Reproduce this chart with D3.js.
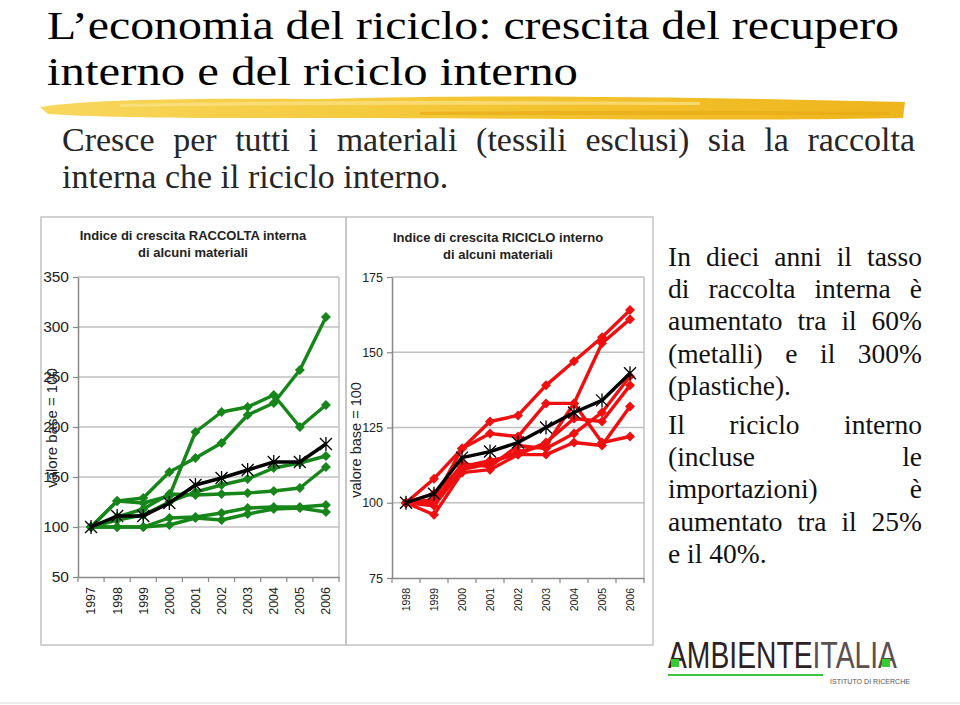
<!DOCTYPE html>
<html>
<head>
<meta charset="utf-8">
<script src="https://cdn.jsdelivr.net/npm/d3@7/dist/d3.min.js"></script>
<style>
  html, body { margin: 0; padding: 0; background: #fff; }
  svg { display: block; }
</style>
</head>
<body>
<svg id="slide" width="960" height="705"></svg>
<script>
//////////
// Data //
//////////

var raccoltaYears = ['1997', '1998', '1999', '2000', '2001', '2002', '2003', '2004', '2005', '2006'];
var ricicloYears = ['1998', '1999', '2000', '2001', '2002', '2003', '2004', '2005', '2006'];

// one row per material
var raccoltaMaterials = [
  [100, 126, 129, 155, 169, 184, 212, 224, 257, 310],
  [100, 126, 124, 131, 195, 215, 220, 232, 200, 222],
  [100, 107, 112, 125, 135, 142, 148, 159, 164, 171],
  [100, 110, 118, 133, 132, 133, 134, 136, 139, 160],
  [100, 100, 100, 109, 110, 114, 119, 120, 120, 122],
  [100, 100, 100, 102, 109, 107, 113, 118, 119, 115]
];
var raccoltaTotal = [100, 111, 111, 124, 142, 149, 157, 165, 165, 183];

var ricicloMaterials = [
  [100, 108, 118, 127, 129, 139, 147, 155, 164],
  [100, 101, 118, 123, 122, 133, 133, 153, 161],
  [100, 99, 111, 113, 117, 119, 133, 120, 122],
  [100, 96, 110, 111, 116, 120, 128, 127, 139],
  [100, 103, 112, 114, 116, 116, 120, 119, 132],
  [100, 100, 113, 112, 119, 118, 123, 130, 142]
];
var ricicloTotal = [100, 103, 115, 117, 120, 125, 130, 134, 143];

var raccoltaTicks = [50, 100, 150, 200, 250, 300, 350];
var ricicloTicks = [75, 100, 125, 150, 175];

var titleLines = ['L\u2019economia del riciclo: crescita del recupero', 'interno e del riciclo interno'];
var subtitleLines = [
  {t: 'Cresce per tutti i materiali (tessili esclusi) sia la raccolta', j: true},
  {t: 'interna che il riciclo interno.', j: false}
];
var sideLines = [
  {t: 'In dieci anni il tasso', j: true},
  {t: 'di raccolta interna è', j: true},
  {t: 'aumentato tra il 60%', j: true},
  {t: '(metalli) e il 300%', j: true},
  {t: '(plastiche).', j: false},
  {t: 'Il riciclo interno', j: true},
  {t: '(incluse le', j: true},
  {t: 'importazioni) è', j: true},
  {t: 'aumentato tra il 25%', j: true},
  {t: 'e il 40%.', j: false}
];

var svg = d3.select('#slide');
var SANS = 'Liberation Sans, Arial, sans-serif';
var SERIF = 'Liberation Serif, Times New Roman, serif';

/////////////
// Helpers //
/////////////

/**
 * Write one line of words, stretching the gaps so it fills `width`
 * when `justify` is set.
 */
var justifiedLine = function(parent, str, x, y, width, justify, size, color) {
  var t = parent.append('text')
    .attr('y', y)
    .style('font-family', SERIF).style('font-size', size + 'px')
    .attr('fill', color);
  var words = str.split(' ');
  var spans = words.map(function(w) { return t.append('tspan').text(w); });
  var widths = spans.map(function(s) { return s.node().getComputedTextLength(); });
  var gap = justify && words.length > 1 ? (width - d3.sum(widths)) / (words.length - 1) : size * 0.25;
  var cx = x;
  spans.forEach(function(s, k) {
    s.attr('x', cx);
    cx += widths[k] + gap;
  });
  return t;
};

///////////////////
// Slide heading //
///////////////////

svg.selectAll('text.title')
  .data(titleLines)
  .enter().append('text')
  .attr('class', 'title')
  .attr('x', 47)
  .attr('y', function(d, i) { return 39 + i * 46; })
  .attr('textLength', function(d, i) { return i === 0 ? 852 : 531; })
  .attr('lengthAdjust', 'spacingAndGlyphs')
  .style('font-family', SERIF)
  .style('font-size', '41px')
  .attr('fill', '#000')
  .text(function(d) { return d; });

// yellow brush stroke under the title
var defs = svg.append('defs');
var grad = defs.append('linearGradient').attr('id', 'brush').attr('x1', '0').attr('x2', '1');
grad.append('stop').attr('offset', '0').attr('stop-color', '#f8d75c');
grad.append('stop').attr('offset', '0.5').attr('stop-color', '#f3c634');
grad.append('stop').attr('offset', '1').attr('stop-color', '#eeb51c');

svg.append('path')
  .attr('d', 'M40,107 C90,99 200,98 320,99 C480,94 700,97 905,102 L903,118 C760,121 560,119 380,118 C240,118 130,119 48,114 Z')
  .attr('fill', 'url(#brush)');
svg.append('path')
  .attr('d', 'M120,104 C300,100 520,101 700,102 L700,105 C520,105 300,104 120,107 Z')
  .attr('fill', '#fbe38a').attr('opacity', 0.7);
svg.append('path')
  .attr('d', 'M420,112 C600,110 760,111 890,112 L890,115 C760,115 600,115 420,115 Z')
  .attr('fill', '#e6a812').attr('opacity', 0.6);

subtitleLines.forEach(function(l, i) {
  justifiedLine(svg, l.t, 62, 151 + i * 37, 853, l.j, 34, '#262626');
});

////////////
// Charts //
////////////

var drawChart = function(opts) {
  var g = svg.append('g');

  // chart frame
  g.append('rect')
    .attr('x', opts.frame[0]).attr('y', opts.frame[1])
    .attr('width', opts.frame[2]).attr('height', opts.frame[3])
    .attr('fill', 'none').attr('stroke', '#c4c4c4').attr('stroke-width', 1.5);

  var x = d3.scaleBand().domain(opts.years).range([opts.left, opts.right]);
  var y = d3.scaleLinear().domain(d3.extent(opts.ticks)).range([opts.bottom, opts.top]);

  // gridlines + plot area border
  g.selectAll('line.grid')
    .data(opts.ticks.slice(1))
    .enter().append('line')
    .attr('x1', opts.left).attr('x2', opts.right)
    .attr('y1', function(d) { return y(d); }).attr('y2', function(d) { return y(d); })
    .attr('stroke', '#c0c0c0').attr('stroke-width', 1.5);
  g.append('line')
    .attr('x1', opts.right).attr('x2', opts.right)
    .attr('y1', opts.top).attr('y2', opts.bottom)
    .attr('stroke', '#c0c0c0').attr('stroke-width', 1.5);

  // y axis
  var yAxis = g.append('g')
    .attr('transform', 'translate(' + opts.left + ',0)')
    .call(d3.axisLeft(y).tickValues(opts.ticks).tickSize(5).tickSizeOuter(0).tickPadding(4));
  yAxis.select('.domain').attr('stroke', '#888').attr('stroke-width', 1.5);
  yAxis.selectAll('.tick line').attr('stroke', '#888').attr('stroke-width', 1.2);
  yAxis.selectAll('.tick text')
    .style('font-family', SANS).style('font-size', opts.yFont + 'px').attr('fill', '#222');

  // x axis, Excel-like ticks between categories
  var xAxis = g.append('g')
    .attr('transform', 'translate(0,' + opts.bottom + ')')
    .call(d3.axisBottom(x).tickSize(0).tickSizeOuter(0));
  xAxis.select('.domain').attr('stroke', '#888').attr('stroke-width', 1.5);
  xAxis.selectAll('.tick text')
    .attr('transform', 'rotate(-90)')
    .attr('text-anchor', 'end')
    .attr('x', -10).attr('y', 0).attr('dy', '0.35em')
    .style('font-family', SANS).style('font-size', opts.xFont + 'px').attr('fill', '#222');
  g.selectAll('line.cat')
    .data(opts.years.concat(['end']))
    .enter().append('line')
    .attr('x1', function(d) { return d === 'end' ? opts.right : x(d); })
    .attr('x2', function(d) { return d === 'end' ? opts.right : x(d); })
    .attr('y1', opts.bottom).attr('y2', opts.bottom + 5)
    .attr('stroke', '#888').attr('stroke-width', 1.2);

  // chart title
  g.selectAll('text.ctitle')
    .data(opts.title)
    .enter().append('text')
    .attr('x', opts.titleX)
    .attr('y', function(d, i) { return opts.titleY + i * 17; })
    .attr('text-anchor', 'middle')
    .style('font-family', SANS).style('font-size', '13px').style('font-weight', 'bold')
    .attr('fill', '#222')
    .text(function(d) { return d; });

  // y axis title
  g.append('text')
    .attr('transform', 'translate(' + opts.yLabel[0] + ',' + opts.yLabel[1] + ') rotate(-90)')
    .attr('text-anchor', 'middle')
    .style('font-family', SANS).style('font-size', opts.labelFont + 'px')
    .attr('fill', '#222')
    .text('valore base = 100');

  var line = d3.line()
    .x(function(d, i) { return x(opts.years[i]) + x.bandwidth() / 2; })
    .y(function(d) { return y(d); });

  var mats = g.selectAll('g.mat')
    .data(opts.materials)
    .enter().append('g').attr('class', 'mat');
  mats.append('path')
    .attr('d', line)
    .attr('fill', 'none').attr('stroke', opts.color).attr('stroke-width', 3.4)
    .attr('stroke-linejoin', 'round');
  mats.selectAll('path.dia')
    .data(function(d) { return d; })
    .enter().append('path')
    .attr('class', 'dia')
    .attr('transform', function(d, i) {
      return 'translate(' + (x(opts.years[i]) + x.bandwidth() / 2) + ',' + y(d) + ')';
    })
    .attr('d', 'M0,-5 L5,0 L0,5 L-5,0 Z')
    .attr('fill', opts.color);

  // total line with star markers
  g.append('path')
    .datum(opts.total)
    .attr('d', line)
    .attr('fill', 'none').attr('stroke', '#000').attr('stroke-width', 3.4)
    .attr('stroke-linejoin', 'round');
  g.selectAll('path.star')
    .data(opts.total)
    .enter().append('path')
    .attr('class', 'star')
    .attr('transform', function(d, i) {
      return 'translate(' + (x(opts.years[i]) + x.bandwidth() / 2) + ',' + y(d) + ')';
    })
    .attr('d', 'M-6,-6 L6,6 M-6,6 L6,-6 M0,-7 L0,7')
    .attr('stroke', '#000').attr('stroke-width', 1.3).attr('fill', 'none');
};

drawChart({
  frame: [41, 217, 305, 428],
  years: raccoltaYears, ticks: raccoltaTicks,
  materials: raccoltaMaterials, total: raccoltaTotal,
  left: 78, right: 339, top: 277, bottom: 577,
  color: '#17861a', yFont: 15.5, xFont: 12.5, labelFont: 15,
  title: ['Indice di crescita RACCOLTA interna', 'di alcuni materiali'],
  titleX: 193, titleY: 240,
  yLabel: [57, 428]
});

drawChart({
  frame: [346, 217, 307, 428],
  years: ricicloYears, ticks: ricicloTicks,
  materials: ricicloMaterials, total: ricicloTotal,
  left: 392, right: 644, top: 277, bottom: 578,
  color: '#ee1010', yFont: 12.5, xFont: 10.5, labelFont: 14.5,
  title: ['Indice di crescita RICICLO interno', 'di alcuni materiali'],
  titleX: 498, titleY: 242,
  yLabel: [361, 440]
});

//////////////////////////
// Side text, justified //
//////////////////////////

sideLines.forEach(function(l, i) {
  justifiedLine(svg, l.t, 668, 266 + i * 32.2 + (i >= 5 ? 7 : 0), 254, l.j, 27.5, '#111');
});

//////////
// Logo //
//////////

// natural width, stretched vertically so the letters get the logo's height
var logo = svg.append('text')
  .attr('transform', 'translate(668,668) scale(1,1.32)')
  .style('font-family', SANS).style('font-size', '28.3px');
logo.append('tspan').attr('fill', '#2d2222').text('AMBIENTE');
logo.append('tspan').attr('fill', '#5a5050').text('ITALIA');

svg.append('rect').attr('x', 671).attr('y', 659).attr('width', 8).attr('height', 8).attr('fill', '#33cc33');
svg.append('rect').attr('x', 882).attr('y', 659).attr('width', 8).attr('height', 8).attr('fill', '#33cc33');
svg.append('line')
  .attr('x1', 668).attr('x2', 823).attr('y1', 675).attr('y2', 675)
  .attr('stroke', '#3cc43c').attr('stroke-width', 2);
svg.append('text')
  .attr('x', 830).attr('y', 684)
  .attr('textLength', 80).attr('lengthAdjust', 'spacingAndGlyphs')
  .style('font-family', SANS).style('font-size', '7.5px')
  .attr('fill', '#555')
  .text('ISTITUTO DI RICERCHE');
svg.append('line')
  .attr('x1', 0).attr('x2', 960).attr('y1', 703).attr('y2', 703)
  .attr('stroke', '#e4e4e4').attr('stroke-width', 1.5);
</script>
</body>
</html>
